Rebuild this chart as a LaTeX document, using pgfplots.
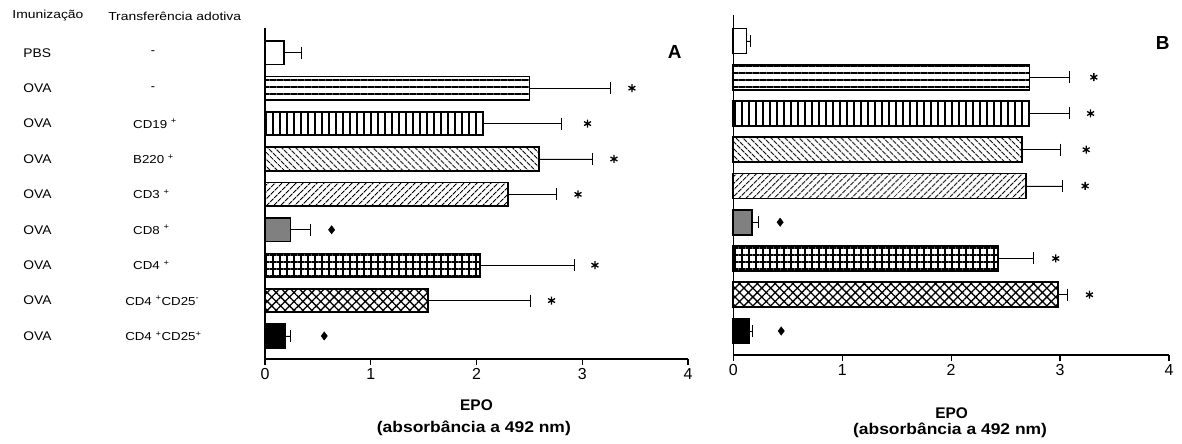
\documentclass[border=0pt]{standalone}
\usepackage{fontspec}
\setmainfont{Liberation Sans}
\usepackage{graphicx}
\usepackage{pgfplots}
\pgfplotsset{compat=1.18}
\usetikzlibrary{patterns.meta}
\newcommand{\sx}[2][1.15]{\scalebox{#1}[1]{#2}}
\newcommand{\rowf}{\fontsize{12.6}{14}\selectfont}
\newcommand{\hdf}{\fontsize{11.6}{13}\selectfont}
\newcommand{\labf}{\bfseries\fontsize{15.5}{17}\selectfont}
\pgfplotsset{
  barbase/.style={xbar, bar shift=0pt, draw=black, line width=1.7bp,
    error bars/x dir=plus, error bars/x explicit,
    error bars/error mark=|,
    error bars/error bar style={line width=0.9bp, black},
    error bars/error mark options={black, mark size=6bp, line width=0.9bp}},
  sPBS/.style={fill=white},
  sOVA/.style={pattern={Lines[angle=0,distance=7bp,line width=1.5bp]}},
  sCDnineteen/.style={pattern={Lines[angle=90,distance=7bp,line width=1.4bp]}},
  sBtwo/.style={pattern={Lines[angle=-45,distance=5.2bp,line width=1.3bp]}},
  sCDthree/.style={pattern={Lines[angle=45,distance=5.2bp,line width=1.3bp]}},
  sCDeight/.style={fill={rgb,255:red,128;green,128;blue,128}},
  sCDfour/.style={pattern={Hatch[angle=0,distance=7bp,line width=1.3bp]}},
  sMinus/.style={pattern={Hatch[angle=45,distance=6.3bp,line width=1.3bp]}},
  sPlus/.style={fill=black},
  panel/.style={anchor=south west, scale only axis, clip=false,
    xmin=0, xmax=4, axis lines*=left, xtick={0,1,2,3,4}, ytick=\empty,
    tick align=outside, major tick length=6bp,
    axis line style={line width=1.2bp, black},
    tick style={line width=1.2bp, black},
    xticklabel style={font=\fontsize{16}{16}\selectfont},
    /pgf/number format/assume math mode=true},
  stars/.style={only marks, mark=asterisk, mark size=4bp, mark options={line width=1.3bp, black}},
  dias/.style={only marks, mark=diamond*, mark size=4.2bp, mark options={black, fill=black}},
}
\begin{document}
\begin{tikzpicture}
\path[use as bounding box] (0,0) rectangle (1182bp,444bp);
% ---------------- Panel A ----------------
\begin{axis}[panel, at={(265bp,85bp)}, width=423bp, height=331bp,
  ymin=0.35, ymax=9.7, bar width=23.5bp]
\addplot[barbase, sPBS] coordinates {(0.18,9) +- (0.16,0)};
\addplot[barbase, sOVA] coordinates {(2.50,8) +- (0.77,0)};
\addplot[barbase, sCDnineteen] coordinates {(2.06,7) +- (0.74,0)};
\addplot[barbase, sBtwo] coordinates {(2.59,6) +- (0.51,0)};
\addplot[barbase, sCDthree] coordinates {(2.30,5) +- (0.46,0)};
\addplot[barbase, sCDeight] coordinates {(0.24,4) +- (0.19,0)};
\addplot[barbase, sCDfour] coordinates {(2.03,3) +- (0.90,0)};
\addplot[barbase, sMinus] coordinates {(1.54,2) +- (0.97,0)};
\addplot[barbase, sPlus] coordinates {(0.19,1) +- (0.05,0)};
\addplot[stars] coordinates {(3.47,8) (3.05,7) (3.30,6) (2.96,5) (3.12,3) (2.71,2)};
\addplot[dias] coordinates {(0.63,4) (0.56,1)};
% labels
\node[anchor=west, inner sep=0pt, font=\hdf] at (axis cs:-2.39,10.04) {\sx[1.2]{Imunização}};
\node[anchor=west, inner sep=0pt, font=\hdf] at (axis cs:-1.484,10.04) {\sx[1.2]{Transferência adotiva}};
\node[anchor=west, inner sep=0pt, font=\rowf] at (axis cs:-2.287,9) {\sx[1.1]{PBS}};
\node[anchor=west, inner sep=0pt, font=\rowf] at (axis cs:-2.287,8) {\sx[1.1]{OVA}};
\node[anchor=west, inner sep=0pt, font=\rowf] at (axis cs:-2.287,7) {\sx[1.1]{OVA}};
\node[anchor=west, inner sep=0pt, font=\rowf] at (axis cs:-2.287,6) {\sx[1.1]{OVA}};
\node[anchor=west, inner sep=0pt, font=\rowf] at (axis cs:-2.287,5) {\sx[1.1]{OVA}};
\node[anchor=west, inner sep=0pt, font=\rowf] at (axis cs:-2.287,4) {\sx[1.1]{OVA}};
\node[anchor=west, inner sep=0pt, font=\rowf] at (axis cs:-2.287,3) {\sx[1.1]{OVA}};
\node[anchor=west, inner sep=0pt, font=\rowf] at (axis cs:-2.287,2) {\sx[1.1]{OVA}};
\node[anchor=west, inner sep=0pt, font=\rowf] at (axis cs:-2.287,1) {\sx[1.1]{OVA}};
\node[inner sep=0pt, font=\rowf] at (axis cs:-1.059,9) {-};
\node[inner sep=0pt, font=\rowf] at (axis cs:-1.059,8) {-};
\node[anchor=west, inner sep=0pt, font=\hdf] at (axis cs:-1.248,7) {\sx{CD19 \textsuperscript{+}}};
\node[anchor=west, inner sep=0pt, font=\hdf] at (axis cs:-1.248,6) {\sx{B220 \textsuperscript{+}}};
\node[anchor=west, inner sep=0pt, font=\hdf] at (axis cs:-1.248,5) {\sx{CD3 \textsuperscript{+}}};
\node[anchor=west, inner sep=0pt, font=\hdf] at (axis cs:-1.248,4) {\sx{CD8 \textsuperscript{+}}};
\node[anchor=west, inner sep=0pt, font=\hdf] at (axis cs:-1.248,3) {\sx{CD4 \textsuperscript{+}}};
\node[anchor=west, inner sep=0pt, font=\hdf] at (axis cs:-1.323,2) {\sx{CD4 \textsuperscript{+}CD25\textsuperscript{-}}};
\node[anchor=west, inner sep=0pt, font=\hdf] at (axis cs:-1.323,1) {\sx{CD4 \textsuperscript{+}CD25\textsuperscript{+}}};
\node[font=\bfseries\fontsize{19}{20}\selectfont] at (axis cs:3.875,9.02) {A};
\node[font=\labf] at (axis cs:2.0,-0.95) {EPO};
\node[font=\labf] at (axis cs:1.975,-1.6) {\sx[1.13]{(absorbância a 492 nm)}};
\end{axis}
% ---------------- Panel B ----------------
\begin{axis}[panel, at={(733.3bp,89bp)}, width=435.7bp, height=340bp,
  ymin=0.338, ymax=9.717, bar width=25bp]
\addplot[barbase, sPBS] coordinates {(0.12,9) +- (0.04,0)};
\addplot[barbase, sOVA] coordinates {(2.72,8) +- (0.37,0)};
\addplot[barbase, sCDnineteen] coordinates {(2.72,7) +- (0.37,0)};
\addplot[barbase, sBtwo] coordinates {(2.65,6) +- (0.35,0)};
\addplot[barbase, sCDthree] coordinates {(2.69,5) +- (0.33,0)};
\addplot[barbase, sCDeight] coordinates {(0.17,4) +- (0.06,0)};
\addplot[barbase, sCDfour] coordinates {(2.43,3) +- (0.33,0)};
\addplot[barbase, sMinus] coordinates {(2.98,2) +- (0.09,0)};
\addplot[barbase, sPlus] coordinates {(0.15,1) +- (0.03,0)};
\addplot[stars] coordinates {(3.31,8) (3.28,7) (3.24,6) (3.23,5) (2.96,3) (3.27,2)};
\addplot[dias] coordinates {(0.43,4) (0.44,1)};
\node[font=\bfseries\fontsize{19}{20}\selectfont] at (axis cs:3.943,8.945) {B};
\node[font=\labf] at (axis cs:2.005,-1.262) {EPO};
\node[font=\labf] at (axis cs:1.99,-1.73) {\sx[1.13]{(absorbância a 492 nm)}};
\end{axis}
\end{tikzpicture}
\end{document}
